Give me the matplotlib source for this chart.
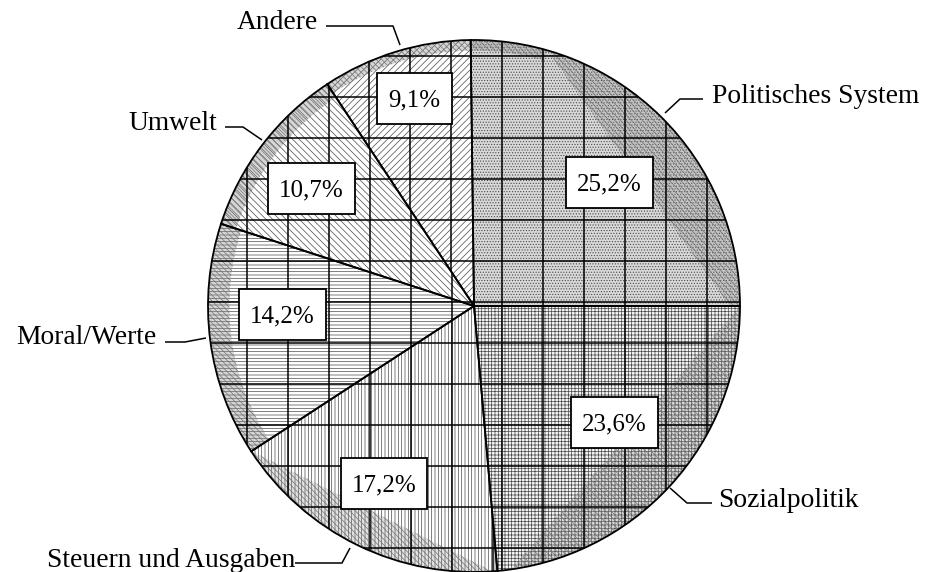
import numpy as np
import matplotlib
matplotlib.use("Agg")
import matplotlib.pyplot as plt
from matplotlib.patches import Wedge, Rectangle, Polygon

# ---------------- data ----------------
categories = ["Politisches System", "Andere", "Umwelt", "Moral/Werte",
              "Steuern und Ausgaben", "Sozialpolitik"]
shares = [25.2, 9.1, 10.7, 14.2, 17.2, 23.6]

# ---------------- layout / style ----------------
W, H = 927, 572
plt.rcParams["hatch.linewidth"] = 0.5
FONT = "Liberation Serif"

def Y(py):
    return H - py

fig = plt.figure(figsize=(W / 100, H / 100), dpi=100)
ax = fig.add_axes([0, 0, 1, 1])

cx, cy, R = 474, Y(306), 266
wedges, _ = ax.pie(shares, startangle=0, counterclock=True, center=(cx, cy),
                   radius=R, frame=True, wedgeprops=dict(linewidth=0))
ax.set_xlim(0, W)
ax.set_ylim(0, H)
ax.set_aspect("auto")
ax.axis("off")

hatches = ["......", "/////", "\\\\\\\\\\", "-----", "|||||", "+++++"]
faces = ["#d8d8d8", "white", "white", "white", "white", "#f2f2f2"]
hatch_color = "#4a4a4a"
grid_xoff = [10, 0, 1, 1, 1, 10]
grid_yoff = 15
grid_step = 41

for w, h, f in zip(wedges, hatches, faces):
    w.set_facecolor(f)
    w.set_hatch(h)
    w.set_edgecolor(hatch_color)
    w.set_linewidth(0)
    w.set_zorder(1)


def arc_pts(a1, a2, r=R, n=60):
    t = np.radians(np.linspace(a1, a2, n))
    return np.column_stack([cx + r * np.cos(t), cy + r * np.sin(t)])


# rim shading (3D-like lighting)
shade_specs = [
    ("chord", -3, 74, 0),
    ("ring", 74, 91, 0),
    ("ring", 91, 124, 1),
    ("ring", 123, 162, 2),
    ("ring", 161, 214, 3),
    ("chord", 213, 274, 4),
    ("chord", -82, 0, 5),
]
ring_w = {0: 0.04, 1: 0.04, 2: 0.06, 3: 0.08}
for kind, a1, a2, idx in shade_specs:
    if kind == "chord":
        pts = arc_pts(a1, a2)
        p = Polygon(pts, closed=True, facecolor=(0.55, 0.55, 0.55, 0.25),
                    edgecolor=(0.45, 0.45, 0.45), hatch="\\\\\\\\\\\\", lw=0,
                    zorder=1.5)
    else:
        rw = ring_w[idx] * R
        p = Wedge((cx, cy), R, a1, a2, width=rw,
                  facecolor=(0.55, 0.55, 0.55, 0.35), edgecolor=(0.45, 0.45, 0.45),
                  hatch="\\\\\\\\\\\\", lw=0, zorder=1.5)
    ax.add_patch(p)
    p.set_clip_path(wedges[idx])

# coarse grid overlay per slice
ys = [Y(v) for v in np.arange(grid_yoff, H, grid_step)]
for w, xo in zip(wedges, grid_xoff):
    xs = np.arange(xo, W, grid_step)
    lc1 = ax.vlines(xs, 0, H, colors="black", lw=1.1, zorder=2)
    lc2 = ax.hlines(ys, 0, W, colors="black", lw=1.1, zorder=2)
    lc1.set_clip_path(w)
    lc2.set_clip_path(w)

# slice outlines
for w in wedges:
    ax.add_patch(Wedge((cx, cy), R, w.theta1, w.theta2, fill=False,
                       edgecolor="black", lw=1.3, zorder=3))

# percent labels in boxes
label_pos = [(609.5, 182), (414.5, 98.5), (311.5, 188), (282.5, 314.5),
             (384, 483), (614.5, 422)]
pct_size = 18
box_h = 51
renderer = fig.canvas.get_renderer()
for v, (px, py) in zip(shares, label_pos):
    s = f"{v:.1f}".replace(".", ",") + "%"
    digit_h = 0.676 * pct_size * 100 / 72
    t = ax.text(px, Y(py + digit_h / 2), s, ha="center", va="baseline",
                fontsize=pct_size, family=FONT, color="black", zorder=6)
    bb = t.get_window_extent(renderer)
    bw = bb.width + 22
    ax.add_patch(Rectangle((px - bw / 2, Y(py + box_h / 2)), bw, box_h,
                           facecolor="white", edgecolor="black", lw=1.3,
                           zorder=5))

# outer labels with leader lines
outer = [
    # text, x, baseline y, ha, leader points
    ("Politisches System", 712, 103, "left", [(703, 99), (680, 99), (665, 113)]),
    ("Andere", 318, 29, "right", [(326, 26), (393, 26), (400, 45)]),
    ("Umwelt", 217, 130, "right", [(225, 127), (243, 127), (262, 140)]),
    ("Moral/Werte", 156, 344, "right", [(165, 342), (185, 342), (206, 338)]),
    ("Steuern und Ausgaben", 295, 567, "right", [(295, 563), (342, 563), (350, 548)]),
    ("Sozialpolitik", 718, 507, "left", [(712, 503), (687, 503), (670, 488)]),
]
for name, (txt, tx, ty, ha, pts) in zip(categories, outer):
    ax.text(tx, Y(ty), name, ha=ha, va="baseline", fontsize=19.8,
            family=FONT, color="black", zorder=6)
    xs_, ys_ = zip(*pts)
    ax.plot(xs_, [Y(q) for q in ys_], color="black", lw=1.1, zorder=6,
            solid_capstyle="butt", clip_on=False)

fig.savefig("out.png", dpi=100)
